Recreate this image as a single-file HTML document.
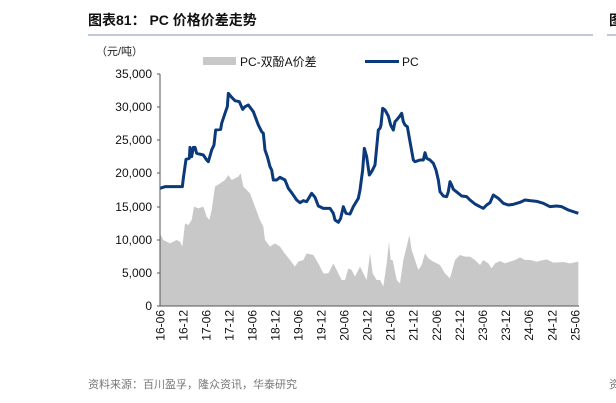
<!DOCTYPE html><html><head><meta charset="utf-8"><style>
body{margin:0;width:616px;height:403px;background:#fff;overflow:hidden;font-family:"Liberation Sans","Noto Sans CJK SC",sans-serif;}
</style></head><body>
<svg width="616" height="403" xmlns="http://www.w3.org/2000/svg" style="position:absolute;left:0;top:0">
<text x="88" y="25" font-size="14" font-weight="bold" fill="#111">图表81：  PC 价格价差走势</text>
<line x1="88" y1="35" x2="593" y2="35" stroke="#a9b9cc" stroke-width="1.5"/>
<line x1="607" y1="35" x2="616" y2="35" stroke="#a9b9cc" stroke-width="1.5"/>
<text x="609" y="25" font-size="14" font-weight="bold" fill="#111">图</text>
<text x="96" y="55" font-size="11" fill="#222">（元/吨）</text>
<rect x="203" y="57" width="33" height="8" fill="#c8c8c8"/>
<text x="240" y="66" font-size="12" fill="#111">PC-双酚A价差</text>
<rect x="365" y="60" width="34" height="3" fill="#0b3a7a"/>
<text x="402" y="66" font-size="12" fill="#111">PC</text>
<g font-size="12" fill="#111" text-anchor="end">
<text x="152" y="78">35,000</text><text x="152" y="111">30,000</text><text x="152" y="144">25,000</text><text x="152" y="177">20,000</text><text x="152" y="211">15,000</text><text x="152" y="244">10,000</text><text x="152" y="277">5,000</text><text x="152" y="310">0</text>
</g>
<g transform="translate(150,60) scale(0.33333)">
<polygon fill="#c8c8c8" points="30,738 30,520 40,540 60,550 80,540 90,545 97,560 105,490 115,495 125,480 132,440 145,445 160,440 170,470 178,480 185,450 195,380 210,370 225,360 235,345 245,360 255,355 265,350 272,340 280,380 290,390 300,400 315,440 330,480 340,500 345,540 360,560 375,550 390,560 400,575 420,600 435,620 445,605 460,600 470,580 490,585 505,610 520,640 535,640 550,610 565,640 575,660 585,660 595,625 605,630 615,650 630,620 640,640 650,660 660,580 668,640 680,660 690,660 700,680 710,610 717,545 722,600 728,600 740,660 750,670 760,600 770,560 778,525 785,570 795,600 805,630 815,615 825,580 835,595 850,605 870,615 885,640 900,655 915,600 930,585 945,590 960,590 975,600 990,615 1000,600 1015,610 1025,625 1035,610 1050,603 1065,610 1080,605 1095,600 1110,592 1125,600 1140,600 1160,605 1190,598 1210,608 1240,606 1260,610 1285,605 1285,738"/>
<polyline fill="none" stroke="#0b3a7a" stroke-width="9" stroke-linejoin="round" points="30,385 45,380 97,380 100,355 108,298 118,295 120,262 125,290 130,262 135,262 140,280 160,285 170,300 175,305 185,270 192,255 197,210 212,208 215,190 225,160 232,140 235,100 245,112 255,122 268,125 278,148 285,140 295,135 310,155 325,195 335,215 340,220 345,270 352,290 360,320 365,330 370,360 380,360 390,352 405,360 415,385 425,398 440,420 450,428 460,422 470,425 485,400 495,412 505,438 520,445 540,445 550,460 555,480 565,487 572,475 580,440 588,460 600,462 610,440 625,415 630,390 638,330 643,265 650,290 658,345 665,335 675,315 685,210 690,205 693,195 698,145 705,150 715,168 722,195 730,210 735,185 740,180 748,170 755,160 760,185 765,195 772,200 780,245 790,300 795,305 810,300 820,300 825,278 830,295 840,300 850,310 858,330 865,360 870,395 880,408 890,410 895,395 900,365 905,375 910,388 925,400 935,408 950,410 960,420 975,432 990,440 1000,445 1010,435 1020,428 1030,405 1045,415 1060,430 1075,435 1090,433 1110,427 1125,420 1140,422 1160,424 1180,430 1200,440 1220,438 1235,440 1255,450 1285,460"/>
</g>
<g stroke="#555" stroke-width="1">
<line x1="160" y1="74" x2="160" y2="306"/>
<line x1="160" y1="306" x2="579" y2="306"/>
<line x1="157" y1="74" x2="160" y2="74"/><line x1="157" y1="107" x2="160" y2="107"/><line x1="157" y1="140" x2="160" y2="140"/><line x1="157" y1="173" x2="160" y2="173"/><line x1="157" y1="207" x2="160" y2="207"/><line x1="157" y1="240" x2="160" y2="240"/><line x1="157" y1="273" x2="160" y2="273"/><line x1="157" y1="306" x2="160" y2="306"/>
</g>
<g font-size="12" fill="#111" text-anchor="end">
<text transform="translate(164.5,310) rotate(-90)">16-06</text>
<text transform="translate(187.5,310) rotate(-90)">16-12</text>
<text transform="translate(210.5,310) rotate(-90)">17-06</text>
<text transform="translate(233.5,310) rotate(-90)">17-12</text>
<text transform="translate(256.5,310) rotate(-90)">18-06</text>
<text transform="translate(279.5,310) rotate(-90)">18-12</text>
<text transform="translate(302.5,310) rotate(-90)">19-06</text>
<text transform="translate(325.5,310) rotate(-90)">19-12</text>
<text transform="translate(348.5,310) rotate(-90)">20-06</text>
<text transform="translate(371.5,310) rotate(-90)">20-12</text>
<text transform="translate(394.5,310) rotate(-90)">21-06</text>
<text transform="translate(417.5,310) rotate(-90)">21-12</text>
<text transform="translate(441,310) rotate(-90)">22-06</text>
<text transform="translate(464,310) rotate(-90)">22-12</text>
<text transform="translate(487,310) rotate(-90)">23-06</text>
<text transform="translate(510,310) rotate(-90)">23-12</text>
<text transform="translate(533,310) rotate(-90)">24-06</text>
<text transform="translate(556.5,310) rotate(-90)">24-12</text>
<text transform="translate(579.5,310) rotate(-90)">25-06</text>
</g>
<text x="88" y="388" font-size="11" fill="#777">资料来源：百川盈孚，隆众资讯，华泰研究</text>
<text x="609" y="388" font-size="11" fill="#777">资</text>
</svg>
</body></html>
